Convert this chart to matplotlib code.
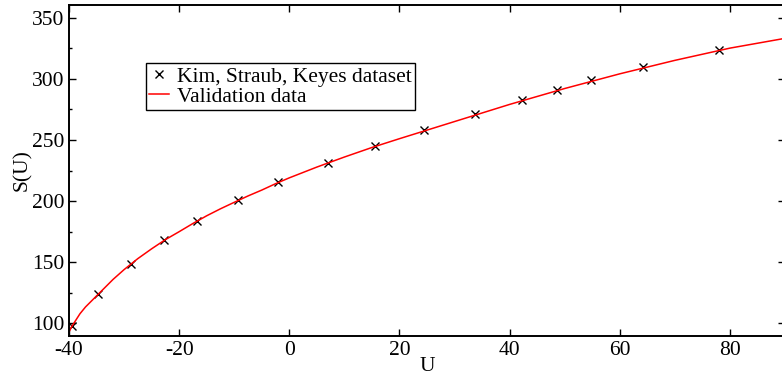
import numpy as np
import matplotlib
matplotlib.use("Agg")
import matplotlib.pyplot as plt

plt.rcParams['font.family'] = ['Liberation Serif', 'DejaVu Serif']
plt.rcParams['axes.unicode_minus'] = False

# Kim, Straub, Keyes dataset (markers)
u_pts = [-39.5, -34.8, -28.8, -22.7, -16.7, -9.3, -2.1, 7.1, 15.5,
         24.4, 33.8, 42.2, 48.6, 54.7, 64.2, 78.1]
s_pts = [97.8, 123.7, 148.7, 167.8, 183.8, 200.5, 215.4, 231.2, 244.9,
         258.2, 271.1, 282.8, 291.0, 298.9, 309.6, 323.2]

# validation curve
u_line = [-40, -39.5, -39, -38, -37, -36, -34, -32, -30, -27.5, -25, -22.5,
          -20, -17.5, -15, -12.5, -10, -7.5, -5, -2.5, 0, 5,
          10, 15, 20, 30, 40, 50, 60, 70, 80, 90]
s_line = [93, 97.5, 101, 108, 113.5, 118, 127, 136, 144, 153, 161, 168.5,
          175, 181.7, 188, 193.7, 199, 204.2, 209, 214.2, 219, 227.8,
          236, 243.8, 251, 265, 279, 292, 304, 315, 325, 333]

fig = plt.figure(figsize=(7.82, 3.78), dpi=100)
ax = fig.add_axes([69/782, 1-335.7/378, 716/782, 330.4/378])

ax.plot(u_pts, s_pts, 'x', color='black', markersize=5.5, mew=1,
        label='Kim, Straub, Keyes dataset')
ax.plot(u_line, s_line, '-', color='red', lw=1.1, label='Validation data')

ax.set_xlim(-40, 90)
ax.set_ylim(90, 360)
ax.set_xticks(np.arange(-40, 81, 20))
ax.set_yticks(np.arange(100, 351, 50))
ax.set_yticks(np.arange(125, 351, 50), minor=True)
ax.tick_params(which='both', direction='in', top=True, right=True,
               labelsize=15.5, width=1)
ax.tick_params(which='major', length=5)
ax.tick_params(which='minor', length=2.5)
for sp in ax.spines.values():
    sp.set_linewidth(1.4)

ax.set_xlabel('U', fontsize=15.5, labelpad=-2)
ax.set_ylabel('S(U)', fontsize=15.5, labelpad=0)

leg = ax.legend(loc='upper left', bbox_to_anchor=(146/782, 1-63.3/378),
                bbox_transform=fig.transFigure, borderaxespad=0,
                fancybox=False, framealpha=1, edgecolor='black',
                fontsize=15.5, handlelength=0.9, handletextpad=0.4,
                labelspacing=0.0, borderpad=0.15)
leg.get_frame().set_linewidth(1.0)

fig.savefig('out.png', dpi=100)
